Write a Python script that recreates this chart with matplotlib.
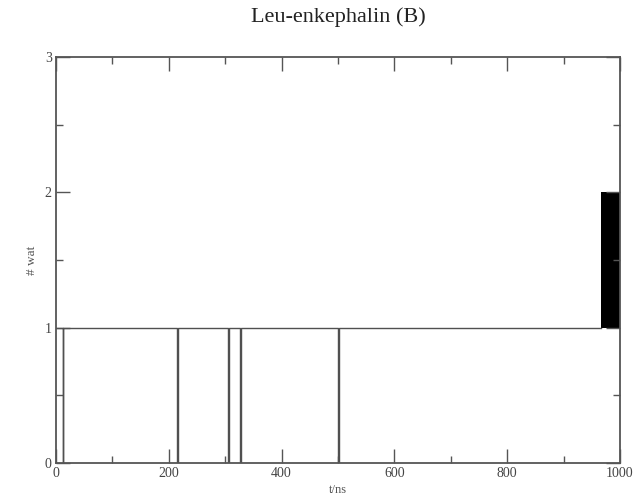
import matplotlib
matplotlib.use("Agg")
import matplotlib.pyplot as plt
from matplotlib.ticker import MultipleLocator

# Step series: number of water molecules vs time (ns)
t_ns = [0, 12, 13, 215, 216, 305, 306, 327, 328, 500, 501, 967]
n_wat = [1, 0, 1, 0, 1, 0, 1, 0, 1, 0, 1, 1]
# Region of rapid 1<->2 flipping at the end of the trajectory
flicker_start, flicker_end = 967, 1000
flicker_low, flicker_high = 1, 2

x_ticks = [0, 200, 400, 600, 800, 1000]
y_ticks = [0, 1, 2, 3]

plt.rcParams['font.family'] = ['Liberation Serif', 'DejaVu Serif']

fig = plt.figure(figsize=(6.41, 5.0), dpi=100)
ax = fig.add_axes([56/641, 37/500, 564/641, 406/500])

ax.plot(t_ns + [flicker_start], n_wat + [1], drawstyle='steps-post', color='#505050', lw=1.0)
ax.fill_between([flicker_start, flicker_end], [flicker_low]*2, [flicker_high]*2,
                color='black', lw=0)

ax.set_xlim(0, 1000)
ax.set_ylim(0, 3)
ax.set_xticks(x_ticks)
ax.set_yticks(y_ticks)
ax.xaxis.set_minor_locator(MultipleLocator(100))
ax.yaxis.set_minor_locator(MultipleLocator(0.5))
ax.tick_params(which='both', direction='in', top=True, right=True, color='#555555', width=1.0,
               labelsize=10, labelcolor='#444444', pad=3)
ax.tick_params(which='major', length=10)
ax.tick_params(which='minor', length=5)
for s in ax.spines.values():
    s.set_color('#555555')
    s.set_linewidth(1.3)

ax.set_xlabel('t/ns', fontsize=9, color='#555555', labelpad=3)
ax.set_ylabel('# wat', fontsize=9.5, color='#555555', labelpad=5)
fig.text(338/641, 1 - 17/500, 'Leu-enkephalin (B)', ha='center', va='center', fontsize=16, color='#222222')

fig.savefig('out.png', dpi=100)
